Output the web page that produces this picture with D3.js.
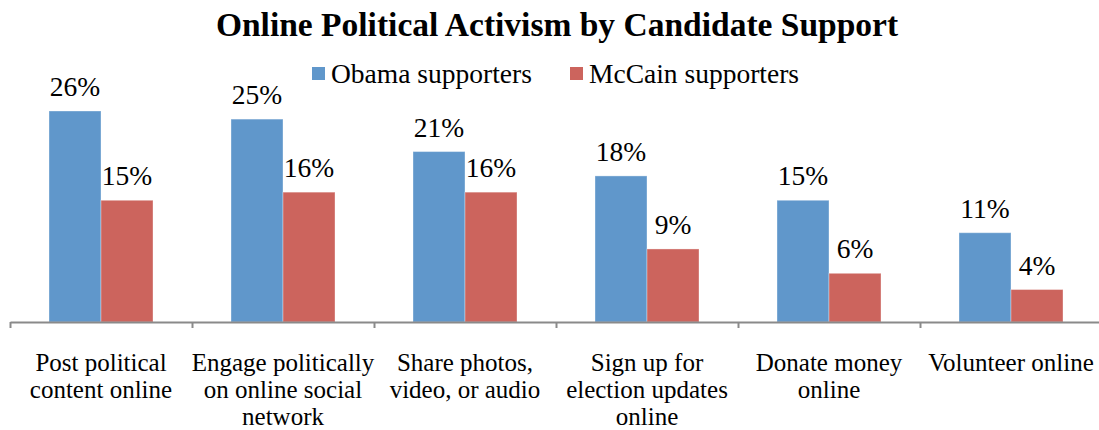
<!DOCTYPE html>
<html>
<head>
<meta charset="utf-8">
<script src="https://cdn.jsdelivr.net/npm/d3@7"></script>
<style>
  body { margin: 0; background: #fff; }
  text { font-family: 'Liberation Serif', serif; fill: #000; }
</style>
</head>
<body>
<div id="graph"></div>
<script>
var categories = [
    ['Post political', 'content online'],
    ['Engage politically', 'on online social', 'network'],
    ['Share photos,', 'video, or audio'],
    ['Sign up for', 'election updates', 'online'],
    ['Donate money', 'online'],
    ['Volunteer online']
];
var series = ['Obama supporters', 'McCain supporters'];
var obama = [26, 25, 21, 18, 15, 11];
var mccain = [15, 16, 16, 9, 6, 4];

var width = 1099,
    height = 430;

var colors = ['#6097cb', '#cc645d'];

var svg = d3.select('#graph')
    .append('svg')
        .attr('width', width)
        .attr('height', height);

var left = 10,
    right = 1102,
    baseline = 322;

var x0 = d3.scaleBand()
    .domain(d3.range(categories.length))
    .range([left, right])
    .padding(0);

var x1 = d3.scaleBand()
    .domain(series)
    .range([0, x0.bandwidth()])
    .paddingInner(0)
    .paddingOuter(0.75);

var y = d3.scaleLinear()
    .domain([0, 26])
    .range([baseline, 111]);

// title
svg.append('text')
    .attr('x', 557)
    .attr('y', 36)
    .attr('text-anchor', 'middle')
    .style('font-size', '33.5px')
    .style('font-weight', 'bold')
    .text('Online Political Activism by Candidate Support');

// legend
var legendX = [312, 570];
series.forEach(function(s, i) {
    svg.append('rect')
        .attr('x', legendX[i])
        .attr('y', 67)
        .attr('width', 13)
        .attr('height', 13)
        .style('fill', colors[i]);
    svg.append('text')
        .attr('x', legendX[i] + 19)
        .attr('y', 83)
        .style('font-size', '27.5px')
        .text(s);
});

// bars
var values = [obama, mccain];
values.forEach(function(vals, si) {
    var g = svg.append('g');
    g.selectAll('rect')
        .data(vals)
        .enter().append('rect')
        .attr('x', function(d, i) { return x0(i) + x1(series[si]); })
        .attr('y', function(d) { return y(d); })
        .attr('width', x1.bandwidth())
        .attr('height', function(d) { return baseline - y(d); })
        .style('fill', colors[si])
        .style('stroke', 'rgba(255,255,255,0.35)')
        .style('stroke-width', 1);
    g.selectAll('text')
        .data(vals)
        .enter().append('text')
        .attr('x', function(d, i) { return x0(i) + x1(series[si]) + x1.bandwidth() / 2; })
        .attr('y', function(d) { return y(d) - 15; })
        .attr('text-anchor', 'middle')
        .style('font-size', '27.5px')
        .text(function(d) { return d + '%'; });
});

// x axis, ticks between categories
var xt = d3.scaleLinear()
    .domain([0, categories.length])
    .range([left, right]);
var axis = svg.append('g')
    .attr('transform', 'translate(0,' + baseline + ')')
    .call(d3.axisBottom(xt)
        .tickValues(d3.range(categories.length + 1))
        .tickSize(6)
        .tickSizeOuter(0)
        .tickFormat(''));
axis.selectAll('path, line')
    .style('stroke', '#8a8a8a')
    .style('stroke-width', 2);

// category labels
categories.forEach(function(lines, i) {
    var t = svg.append('text')
        .attr('text-anchor', 'middle')
        .style('font-size', '25px');
    lines.forEach(function(line, j) {
        t.append('tspan')
            .attr('x', x0(i) + x0.bandwidth() / 2)
            .attr('y', 371 + j * 27)
            .text(line);
    });
});
</script>
</body>
</html>
